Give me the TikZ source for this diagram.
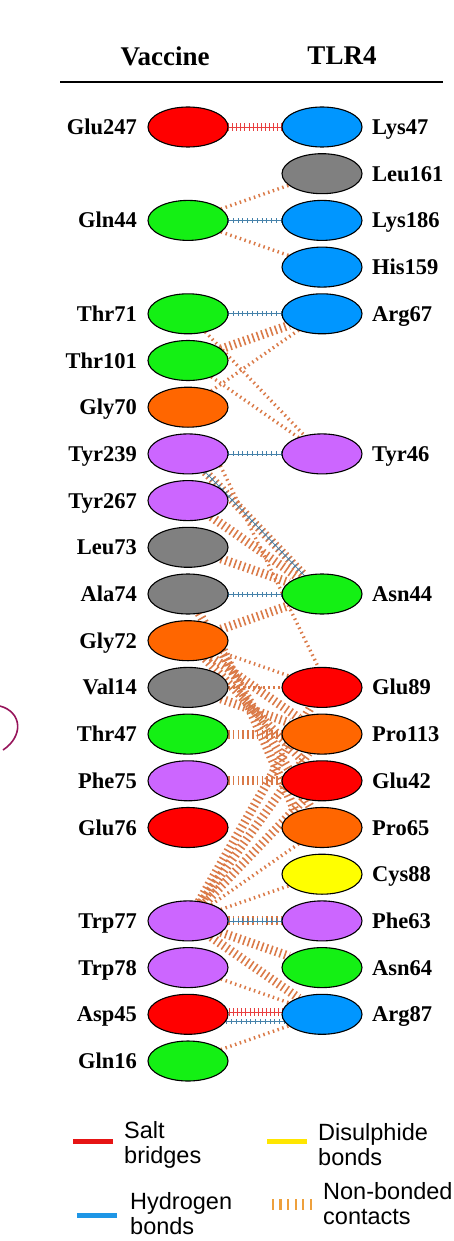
\documentclass[tikz,border=0pt]{standalone}
\usepackage{fontspec}
\setmainfont{Liberation Serif}
\newfontfamily\legendfont{Liberation Sans}
\usetikzlibrary{positioning, shapes.geometric, backgrounds}

\definecolor{resred}{RGB}{255,0,0}
\definecolor{resblue}{RGB}{0,150,255}
\definecolor{resgray}{RGB}{128,128,128}
\definecolor{resgreen}{RGB}{20,240,20}
\definecolor{resorange}{RGB}{255,102,0}
\definecolor{respurple}{RGB}{204,102,255}
\definecolor{resyellow}{RGB}{255,255,0}
\definecolor{nbcol}{RGB}{218,122,72}
\definecolor{hbcol}{RGB}{70,130,170}
\definecolor{sbcol}{RGB}{232,64,64}
\definecolor{legred}{RGB}{230,20,20}
\definecolor{legblue}{RGB}{30,150,230}
\definecolor{legyellow}{RGB}{255,230,0}
\definecolor{legorange}{RGB}{238,160,60}
\definecolor{strayink}{RGB}{150,20,90}

\begin{document}
\begin{tikzpicture}[
    x=1pt, y=1pt,
    node distance=6.7pt and 54pt,
    res/.style={ellipse, draw=black, line width=1.1pt, fill=#1, minimum width=80pt,
                minimum height=40pt, inner sep=0pt, outer sep=0pt},
    lbl/.style={font=\fontsize{22.5}{26}\selectfont\bfseries, inner sep=0pt,
                text height=15pt, text depth=0pt},
    vl/.style={label={[lbl, label distance=11pt]left:#1}},
    tl/.style={label={[lbl, label distance=10pt]right:#1}},
    head/.style={font=\fontsize{27}{32}\selectfont\bfseries},
    nb/.style={draw=nbcol, line width=3.4pt, dash pattern=on 1.5pt off 3.5pt},
    nbb/.style={draw=nbcol, line width=9pt, dash pattern=on 1.6pt off 3.2pt},
    hb/.style={draw=hbcol, line width=0.7pt,
               postaction={draw=hbcol, line width=5pt, dash pattern=on 0.8pt off 4pt}},
    sb/.style={draw=sbcol, line width=0.7pt,
               postaction={draw=sbcol, line width=8pt, dash pattern=on 0.9pt off 3.2pt}},
    leg/.style={font=\legendfont\fontsize{23.5}{25}\selectfont, align=left, anchor=west, inner sep=0pt},
    swatch/.style={line width=5pt, draw=#1},
]
\useasboundingbox (0,0) rectangle (453,-1241);

% --- Header ---
\node[head] (vaccine) at (165,-56) {Vaccine};
\node[head] (tlr4) at (342,-56) {TLR4};
\draw[line width=1.3pt] (60,-82) -- (443,-82);

% --- Vaccine residues ---
\node[res=resred, vl=Glu247] (glu247) at (188,-127) {};
\node[res=resgreen, vl=Gln44, below=53.4pt of glu247] (gln44) {};
\node[res=resgreen, vl=Thr71, below=53.4pt of gln44] (thr71) {};
\node[res=resgreen, vl=Thr101, below=of thr71] (thr101) {};
\node[res=resorange, vl=Gly70, below=of thr101] (gly70) {};
\node[res=respurple, vl=Tyr239, below=of gly70] (tyr239) {};
\node[res=respurple, vl=Tyr267, below=of tyr239] (tyr267) {};
\node[res=resgray, vl=Leu73, below=of tyr267] (leu73) {};
\node[res=resgray, vl=Ala74, below=of leu73] (ala74) {};
\node[res=resorange, vl=Gly72, below=of ala74] (gly72) {};
\node[res=resgray, vl=Val14, below=of gly72] (val14) {};
\node[res=resgreen, vl=Thr47, below=of val14] (thr47) {};
\node[res=respurple, vl=Phe75, below=of thr47] (phe75) {};
\node[res=resred, vl=Glu76, below=of phe75] (glu76) {};
\node[res=respurple, vl=Trp77, below=53.4pt of glu76] (trp77) {};
\node[res=respurple, vl=Trp78, below=of trp77] (trp78) {};
\node[res=resred, vl=Asp45, below=of trp78] (asp45) {};
\node[res=resgreen, vl=Gln16, below=of asp45] (gln16) {};

% --- TLR4 residues ---
\node[res=resblue, tl=Lys47, right=of glu247] (lys47) {};
\node[res=resgray, tl=Leu161, below=of lys47] (leu161) {};
\node[res=resblue, tl=Lys186, right=of gln44] (lys186) {};
\node[res=resblue, tl=His159, below=of lys186] (his159) {};
\node[res=resblue, tl=Arg67, right=of thr71] (arg67) {};
\node[res=respurple, tl=Tyr46, right=of tyr239] (tyr46) {};
\node[res=resgreen, tl=Asn44, right=of ala74] (asn44) {};
\node[res=resred, tl=Glu89, right=of val14] (glu89) {};
\node[res=resorange, tl=Pro113, right=of thr47] (pro113) {};
\node[res=resred, tl=Glu42, right=of phe75] (glu42) {};
\node[res=resorange, tl=Pro65, right=of glu76] (pro65) {};
\node[res=resyellow, tl=Cys88, below=of pro65] (cys88) {};
\node[res=respurple, tl=Phe63, right=of trp77] (phe63) {};
\node[res=resgreen, tl=Asn64, right=of trp78] (asn64) {};
\node[res=resblue, tl=Arg87, right=of asp45] (arg87) {};

% --- Interface contacts ---
\begin{scope}[on background layer]
    \draw[sb] (glu247) -- (lys47);
    \draw[nb] (gln44) -- (leu161);
    \draw[hb] (gln44) -- (lys186);
    \draw[nb] (gln44) -- (his159);
    \draw[hb] (thr71) -- (arg67);
    \draw[nbb] (thr101) -- (arg67);
    \draw[nb] (gly70) -- (arg67);
    \draw[nb] (thr71) -- (tyr46);
    \draw[nb] (thr101) -- (tyr46);
    \draw[hb] (tyr239) -- (tyr46);
    \draw[nbb] (tyr239) -- (asn44);
    \draw[hb] (tyr239) -- (asn44);
    \draw[nbb] (tyr267) -- (asn44);
    \draw[nbb] (leu73) -- (asn44);
    \draw[hb] (ala74) -- (asn44);
    \draw[nbb] (gly72) -- (asn44);
    \draw[nb] (tyr239.-20) -- (glu89.100);
    \draw[nb] (gly72) -- (glu89);
    \draw[nb] (val14) -- (glu89);
    \draw[nbb] (gly72) -- (pro113);
    \draw[nbb] (gly72) -- (glu42);
    \draw[nbb] (gly72.-15) -- (pro65.150);
    \draw[nbb] (ala74) -- (pro65);
    \draw[nbb] (val14) -- (pro113);
    \draw[nbb] (thr47) -- (pro113);
    \draw[nbb] (phe75) -- (glu42);
    \draw[nbb] (trp77) -- (glu89);
    \draw[nbb] (trp77) -- (pro113);
    \draw[nbb] (trp77) -- (glu42);
    \draw[nb] (trp77) -- (pro65);
    \draw[nb] (trp77) -- (cys88);
    \draw[nbb] (trp77) -- (phe63);
    \draw[hb] (trp77) -- (phe63);
    \draw[nbb] (trp77) -- (asn64);
    \draw[nbb] (trp77) -- (arg87);
    \draw[nb] (trp78) -- (arg87);
    \draw[sb] ([yshift=2pt]asp45.center) -- ([yshift=2pt]arg87.center);
    \draw[hb] ([yshift=-7pt]asp45.center) -- ([yshift=-7pt]arg87.center);
    \draw[nb] (gln16) -- (arg87);
\end{scope}

% --- Legend ---
\node[leg] (salt) at (124,-1145) {Salt\\bridges};
\node[leg] (disul) at (318,-1145) {Disulphide\\bonds};
\node[leg] (hydro) at (130,-1214) {Hydrogen\\bonds};
\node[leg] (nonb) at (323,-1204) {Non-bonded\\contacts};
\draw[swatch=legred] ([xshift=-11pt, yshift=4pt]salt.west) -- ++(-40,0);
\draw[swatch=legyellow] ([xshift=-11pt, yshift=4pt]disul.west) -- ++(-40,0);
\draw[swatch=legblue] ([xshift=-13pt, yshift=-1pt]hydro.west) -- ++(-40,0);
\draw[draw=legorange, line width=11pt, dash pattern=on 2.2pt off 5.4pt]
    ([xshift=-11pt]nonb.west) -- ++(-43,0);

% --- stray mark at left edge ---
\draw[strayink, line width=1.6pt] (0,-706) .. controls (22,-712) and (24,-736) .. (3,-750);

\end{tikzpicture}
\end{document}
